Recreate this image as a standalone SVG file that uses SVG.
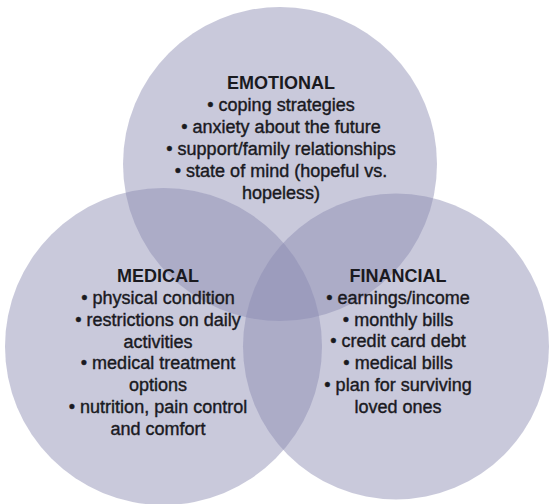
<svg xmlns="http://www.w3.org/2000/svg" width="550" height="504" viewBox="0 0 550 504">
  <style>
    .set { fill: #8a8ab1; fill-opacity: 0.46; }
    .head { font-family: "Liberation Sans", Arial, Helvetica, sans-serif; font-size: 18px; font-weight: bold; fill: #1a1a1f; text-anchor: middle; }
    .item { font-family: "Liberation Sans", Arial, Helvetica, sans-serif; font-size: 18px; fill: #1a1a1f; stroke: #1a1a1f; stroke-width: 0.4px; text-anchor: middle; }
  </style>
  <rect width="550" height="504" fill="#ffffff"/>

  <!-- three overlapping sets -->
  <g id="circles">
    <circle class="set" cx="280" cy="164" r="157"/>
    <circle class="set" cx="163.5" cy="346.5" r="158.5"/>
    <circle class="set" cx="396" cy="346.5" r="153"/>
  </g>

  <g id="emotional">
    <text class="head" x="281" y="89">EMOTIONAL</text>
    <text class="item" x="281" y="111">• coping strategies</text>
    <text class="item" x="281" y="133">• anxiety about the future</text>
    <text class="item" x="281" y="155">• support/family relationships</text>
    <text class="item" x="281" y="177">• state of mind (hopeful vs.</text>
    <text class="item" x="281" y="199">hopeless)</text>
  </g>

  <g id="medical">
    <text class="head" x="158" y="282">MEDICAL</text>
    <text class="item" x="158" y="304">• physical condition</text>
    <text class="item" x="158" y="326">• restrictions on daily</text>
    <text class="item" x="158" y="348">activities</text>
    <text class="item" x="158" y="369">• medical treatment</text>
    <text class="item" x="158" y="391">options</text>
    <text class="item" x="158" y="413">• nutrition, pain control</text>
    <text class="item" x="158" y="435">and comfort</text>
  </g>

  <g id="financial">
    <text class="head" x="398" y="282">FINANCIAL</text>
    <text class="item" x="398" y="304">• earnings/income</text>
    <text class="item" x="398" y="326">• monthly bills</text>
    <text class="item" x="398" y="347">• credit card debt</text>
    <text class="item" x="398" y="369">• medical bills</text>
    <text class="item" x="398" y="391">• plan for surviving</text>
    <text class="item" x="398" y="413">loved ones</text>
  </g>
</svg>
